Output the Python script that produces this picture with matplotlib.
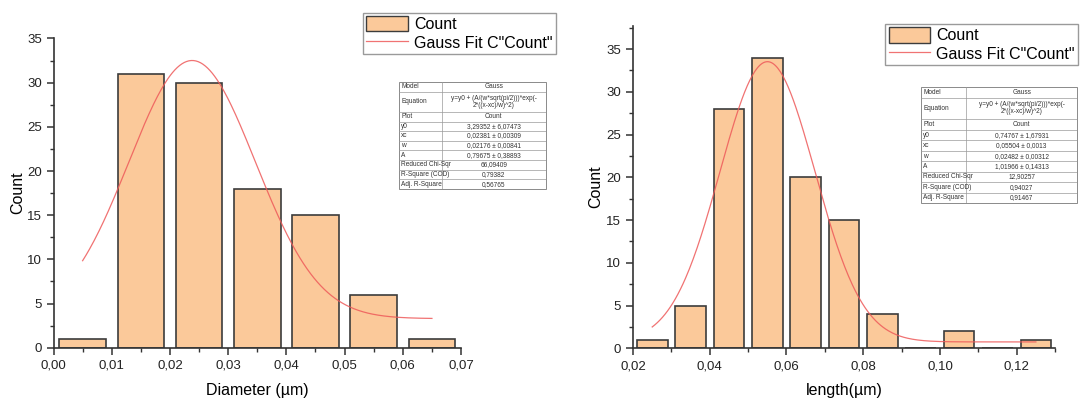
import numpy as np
import matplotlib
matplotlib.use("Agg")
import matplotlib.pyplot as plt
from matplotlib.patches import Rectangle, Patch
from matplotlib.lines import Line2D
from matplotlib.ticker import FuncFormatter, MultipleLocator

plt.rcParams["font.family"] = ["Liberation Sans", "DejaVu Sans"]

# Diameter histogram
diam_centers = [0.005, 0.015, 0.025, 0.035, 0.045, 0.055, 0.065]
diam_counts = [1, 31, 30, 18, 15, 6, 1]
# Gauss fit (Origin form): y0, xc, w, A
diam_fit = [3.29352, 0.02381, 0.02176, 0.79675]
diam_fit_range = [0.005, 0.065]
diam_table = [
    ("Model", "Gauss"),
    ("Equation", "y=y0 + (A/(w*sqrt(pi/2)))*exp(-\n2*((x-xc)/w)^2)"),
    ("Plot", "Count"),
    ("y0", "3,29352 \u00b1 6,07473"),
    ("xc", "0,02381 \u00b1 0,00309"),
    ("w", "0,02176 \u00b1 0,00841"),
    ("A", "0,79675 \u00b1 0,38893"),
    ("Reduced Chi-Sqr", "66,09409"),
    ("R-Square (COD)", "0,79382"),
    ("Adj. R-Square", "0,56765"),
]

# Length histogram
len_centers = [0.025, 0.035, 0.045, 0.055, 0.065, 0.075, 0.085, 0.095, 0.105, 0.115, 0.125]
len_counts = [1, 5, 28, 34, 20, 15, 4, 0, 2, 0, 1]
len_fit = [0.74767, 0.05504, 0.02482, 1.01966]
len_fit_range = [0.025, 0.125]
len_table = [
    ("Model", "Gauss"),
    ("Equation", "y=y0 + (A/(w*sqrt(pi/2)))*exp(-\n2*((x-xc)/w)^2)"),
    ("Plot", "Count"),
    ("y0", "0,74767 \u00b1 1,67931"),
    ("xc", "0,05504 \u00b1 0,0013"),
    ("w", "0,02482 \u00b1 0,00312"),
    ("A", "1,01966 \u00b1 0,14313"),
    ("Reduced Chi-Sqr", "12,90257"),
    ("R-Square (COD)", "0,94027"),
    ("Adj. R-Square", "0,91467"),
]

BAR_FILL = "#FBC99A"
BAR_EDGE = "#3c3c3c"
FIT_COLOR = "#EE5A5A"
AXIS_COLOR = "#333333"


def gauss(x, y0, xc, w, A):
    return y0 + A / (w * np.sqrt(np.pi / 2)) * np.exp(-2 * ((x - xc) / w) ** 2)


def comma(x, pos):
    return f"{x:.2f}".replace(".", ",")


def style_axes(ax):
    for side in ("top", "right"):
        ax.spines[side].set_visible(False)
    for side in ("left", "bottom"):
        ax.spines[side].set_color(AXIS_COLOR)
        ax.spines[side].set_linewidth(1.2)
    ax.tick_params(which="major", direction="out", length=5, width=1.1,
                   color=AXIS_COLOR, labelsize=9.5, labelcolor="#222222")
    ax.tick_params(which="minor", direction="out", length=3, width=1.0,
                   color=AXIS_COLOR)
    ax.yaxis.set_major_locator(MultipleLocator(5))
    ax.yaxis.set_minor_locator(MultipleLocator(2.5))
    ax.xaxis.set_major_formatter(FuncFormatter(comma))


def draw_hist(ax, centers, counts, fit, fit_range):
    ax.bar(centers, counts, width=0.008, color=BAR_FILL, edgecolor=BAR_EDGE,
           linewidth=1.2, zorder=2)
    xs = np.linspace(fit_range[0], fit_range[1], 300)
    ax.plot(xs, gauss(xs, *fit), color=FIT_COLOR, lw=0.9, alpha=0.85, zorder=3)


def draw_table(fig, rect, rows):
    tax = fig.add_axes(rect)
    tax.set_xlim(0, 1)
    tax.set_ylim(0, 1)
    tax.axis("off")
    heights = [2.1 if name == "Equation" else 1.0 for name, _ in rows]
    unit = 1.0 / sum(heights)
    split = 0.29
    top = 1.0
    tax.add_patch(Rectangle((0, 0), 1, 1, facecolor="white", edgecolor="#8a8a8a",
                            lw=0.7, clip_on=False))
    for (name, value), h in zip(rows, heights):
        bottom = top - h * unit
        if bottom > 1e-6:
            tax.plot([0, 1], [bottom, bottom], color="#9a9a9a", lw=0.5)
        mid = (top + bottom) / 2
        tax.text(0.015, mid, name, fontsize=4.7, va="center", ha="left",
                 color="#333333")
        t = tax.text((split + 1) / 2, mid, value, fontsize=4.7, va="center",
                     ha="center", color="#333333", linespacing=1.0)
        t.set_clip_on(True)
        top = bottom
    tax.plot([split, split], [0, 1], color="#9a9a9a", lw=0.5)


fig = plt.figure(figsize=(10.81, 4.03), dpi=100)

# Left panel: diameter
ax1 = fig.add_axes([0.0495, 0.1372, 0.377, 0.7673])
draw_hist(ax1, diam_centers, diam_counts, diam_fit, diam_fit_range)
ax1.set_xlim(0, 0.07)
ax1.set_ylim(0, 35)
ax1.xaxis.set_major_locator(MultipleLocator(0.01))
ax1.xaxis.set_minor_locator(MultipleLocator(0.005))
style_axes(ax1)
ax1.set_xlabel("Diameter (\u00b5m)", fontsize=11.5, labelpad=8)
ax1.set_ylabel("Count", fontsize=11.5, labelpad=1)

# Right panel: length
ax2 = fig.add_axes([0.5856, 0.1357, 0.3904, 0.7998])
draw_hist(ax2, len_centers, len_counts, len_fit, len_fit_range)
ax2.set_xlim(0.02, 0.13)
ax2.set_ylim(0, 37.7)
ax2.xaxis.set_major_locator(MultipleLocator(0.02))
ax2.xaxis.set_minor_locator(MultipleLocator(0.01))
style_axes(ax2)
ax2.set_xlabel("length(\u00b5m)", fontsize=11.5, labelpad=8)
ax2.set_ylabel("Count", fontsize=11.5, labelpad=2)

handles = [Patch(facecolor=BAR_FILL, edgecolor=BAR_EDGE, linewidth=1.0),
           Line2D([], [], color=FIT_COLOR, lw=0.9, alpha=0.85)]
labels = ["Count", 'Gauss Fit C"Count"']
for anchor in [(0.336, 0.968), (0.819, 0.940)]:
    fig.legend(handles, labels, loc="upper left", bbox_to_anchor=anchor,
               fontsize=11.5, frameon=True, fancybox=False, edgecolor="#9a9a9a",
               framealpha=1, handlelength=2.6, handleheight=1.1,
               handletextpad=0.4, borderpad=0.2, labelspacing=0.15,
               borderaxespad=0)

draw_table(fig, [0.369, 0.531, 0.136, 0.2655], diam_table)
draw_table(fig, [0.852, 0.496, 0.1443, 0.288], len_table)

fig.savefig("out.png", dpi=100)
